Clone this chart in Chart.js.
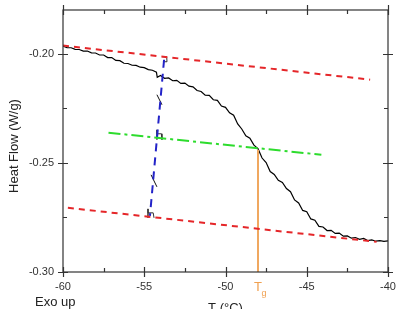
<!DOCTYPE html>
<html>
<head>
<meta charset="utf-8">
<script src="https://cdn.jsdelivr.net/npm/chart.js@4"></script>
<style>
  html, body { margin: 0; padding: 0; background: #fff; }
  #wrap { width: 396px; height: 309px; }
</style>
</head>
<body>
<div id="wrap"><canvas id="dsc"></canvas></div>
<script>
// measured DSC curve
const temps = [-60, -59.75, -59.5, -59.25, -59, -58.75, -58.5, -58.25, -58, -57.75, -57.5, -57.25, -57,
  -56.75, -56.5, -56.25, -56, -55.75, -55.5, -55.25, -55, -54.75, -54.5, -54.25, -54.2, -54, -53.75,
  -53.5, -53.25, -53, -52.75, -52.5, -52.25, -52, -51.75, -51.5, -51.25, -51, -50.75, -50.5, -50.25,
  -50, -49.75, -49.5, -49.25, -49, -48.75, -48.5, -48.25, -48, -47.75, -47.5, -47.25, -47, -46.75,
  -46.5, -46.25, -46, -45.75, -45.5, -45.25, -45, -44.75, -44.5, -44.25, -44, -43.75, -43.5, -43.25,
  -43, -42.75, -42.5, -42.25, -42, -41.75, -41.5, -41.25, -41, -40.75, -40.5, -40.25, -40];
const heatFlow = [-0.1966, -0.1972, -0.1973, -0.1980, -0.1981, -0.1988, -0.1988, -0.1996, -0.1997,
  -0.2006, -0.2006, -0.2018, -0.2018, -0.2031, -0.2032, -0.2044, -0.2045, -0.2053, -0.2054, -0.2062,
  -0.2064, -0.2073, -0.2076, -0.2085, -0.2108, -0.2100, -0.2113, -0.2111, -0.2124, -0.2122, -0.2136,
  -0.2135, -0.2149, -0.2152, -0.2169, -0.2173, -0.2190, -0.2191, -0.2211, -0.2214, -0.2240, -0.2246,
  -0.2271, -0.2282, -0.2322, -0.2345, -0.2376, -0.2387, -0.2419, -0.2435, -0.2478, -0.2499, -0.2540,
  -0.2553, -0.2580, -0.2590, -0.2618, -0.2632, -0.2670, -0.2684, -0.2718, -0.2724, -0.2757, -0.2763,
  -0.2791, -0.2794, -0.2810, -0.2809, -0.2823, -0.2822, -0.2836, -0.2835, -0.2845, -0.2842, -0.2850,
  -0.2846, -0.2856, -0.2853, -0.2859, -0.2856, -0.2860, -0.2857];

// construction lines (start / end points)
const upperBase = [[-60, -0.1963], [-41.1, -0.2119]];
const lowerBase = [[-59.7, -0.2706], [-40.7, -0.2862]];
const midLine = [[-57.2, -0.2362], [-44.1, -0.2463]];
const slopeLine = [[-53.78, -0.2028], [-54.65, -0.2743]];
const tgLine = [[-48, -0.2440], [-48, -0.30]];
// little cursor marks along the slope line
const marks1 = [[-54.22, -0.2188], [-53.91, -0.2234]];
const marks2 = [[-54.58, -0.2555], [-54.22, -0.2610]];
const hookTop = [[-53.9, -0.2014], [-53.62, -0.2014], [-53.6, -0.2037], [-53.85, -0.2037]];
const hookMid = [[-54.22, -0.2349], [-54.22, -0.2394], [-54.22, -0.2367], [-53.94, -0.2367], [-53.91, -0.2394]];
const hookLow = [[-54.77, -0.2711], [-54.77, -0.2752], [-54.77, -0.2729], [-54.45, -0.2729], [-54.4, -0.2752]];

const xTicks = [-60, -55, -50, -45, -40];
const xMinor = [-57.5, -52.5, -47.5, -42.5];
const yTicks = [-0.30, -0.25, -0.20];
const yMinor = [-0.275, -0.225];

const pts = (arr) => arr.map(p => ({ x: p[0], y: p[1] }));
const line = (data, color, width, dash) => ({
  data: pts(data), showLine: true, borderColor: color, borderWidth: width,
  borderDash: dash, pointRadius: 0, fill: false, tension: 0
});

const frame = {
  id: 'frame',
  afterDatasetsDraw(chart) {
    const { ctx, chartArea: a, scales: { x, y } } = chart;
    ctx.save();
    ctx.strokeStyle = '#333';
    ctx.lineWidth = 1.2;
    ctx.strokeRect(a.left, a.top, a.right - a.left, a.bottom - a.top);
    ctx.beginPath();
    xTicks.forEach(v => {
      const px = Math.round(x.getPixelForValue(v)) + 0.5;
      ctx.moveTo(px, a.bottom - 5); ctx.lineTo(px, a.bottom + 5);
      ctx.moveTo(px, a.top - 5); ctx.lineTo(px, a.top + 5);
    });
    xMinor.forEach(v => {
      const px = Math.round(x.getPixelForValue(v)) + 0.5;
      ctx.moveTo(px, a.bottom - 4); ctx.lineTo(px, a.bottom);
      ctx.moveTo(px, a.top); ctx.lineTo(px, a.top + 4);
    });
    yTicks.forEach(v => {
      const py = Math.round(y.getPixelForValue(v)) + 0.5;
      ctx.moveTo(a.left - 5, py); ctx.lineTo(a.left + 5, py);
      ctx.moveTo(a.right - 5, py); ctx.lineTo(a.right + 5, py);
    });
    yMinor.forEach(v => {
      const py = Math.round(y.getPixelForValue(v)) + 0.5;
      ctx.moveTo(a.left, py); ctx.lineTo(a.left + 4, py);
      ctx.moveTo(a.right - 4, py); ctx.lineTo(a.right, py);
    });
    ctx.stroke();

    ctx.fillStyle = '#222';
    ctx.font = '13px "Liberation Sans", Arial, sans-serif';
    ctx.textBaseline = 'middle';
    ctx.textAlign = 'left';
    ctx.fillText('Exo up', 35, 302);
    ctx.textAlign = 'center';
    ctx.textBaseline = 'alphabetic';
    ctx.fillText('T (°C)', (a.left + a.right) / 2, 312);
    ctx.save();
    ctx.translate(14, 146);
    ctx.rotate(-Math.PI / 2);
    ctx.textBaseline = 'middle';
    ctx.fillText('Heat Flow (W/g)', 0, 0);
    ctx.restore();

    const tx = x.getPixelForValue(-48);
    ctx.fillStyle = '#f0a050';
    ctx.textAlign = 'center';
    ctx.textBaseline = 'middle';
    ctx.fillText('T', tx, 287);
    ctx.font = '9px "Liberation Sans", Arial, sans-serif';
    ctx.fillText('g', tx + 6, 294);
    ctx.restore();
  }
};

new Chart(document.getElementById('dsc'), {
  type: 'scatter',
  data: {
    datasets: [
      line(upperBase, '#e52629', 2, [6, 5]),
      line(lowerBase, '#e52629', 2, [6, 5]),
      line(midLine, '#2ddc2d', 2, [12, 4, 3, 4]),
      line(slopeLine, '#2323c8', 2, [8, 6]),
      line(tgLine, '#f0a860', 2, []),
      line(marks1, '#111', 1, []),
      line(marks2, '#111', 1, []),
      line(hookTop, '#333', 1, []),
      line(hookMid, '#333', 1, []),
      line(hookLow, '#333', 1, []),
      {
        data: temps.map((t, i) => ({ x: t, y: heatFlow[i] })),
        showLine: true, borderColor: '#000', borderWidth: 1.2,
        pointRadius: 0, fill: false, tension: 0
      }
    ]
  },
  options: {
    responsive: true,
    maintainAspectRatio: false,
    animation: false,
    layout: { padding: { left: 0, right: 8, top: 10, bottom: 0 } },
    plugins: { legend: { display: false }, tooltip: { enabled: false } },
    scales: {
      x: {
        type: 'linear', min: -60, max: -40,
        afterBuildTicks: s => { s.ticks = xTicks.map(v => ({ value: v })); },
        afterFit: s => { s.height = 37; },
        grid: { display: false, drawTicks: true, tickLength: 8 },
        border: { display: false },
        ticks: {
          padding: 0, color: '#333',
          font: { family: '"Liberation Sans", Arial, sans-serif', size: 11 },
          callback: v => String(v)
        }
      },
      y: {
        type: 'linear', min: -0.30, max: -0.18,
        afterBuildTicks: s => { s.ticks = yTicks.map(v => ({ value: v })); },
        afterFit: s => { s.width = 63; },
        grid: { display: false, drawTicks: true, tickLength: 9 },
        border: { display: false },
        ticks: {
          padding: 0, color: '#333',
          font: { family: '"Liberation Sans", Arial, sans-serif', size: 11 },
          callback: v => Number(v).toFixed(2)
        }
      }
    }
  },
  plugins: [frame]
});
</script>
</body>
</html>
